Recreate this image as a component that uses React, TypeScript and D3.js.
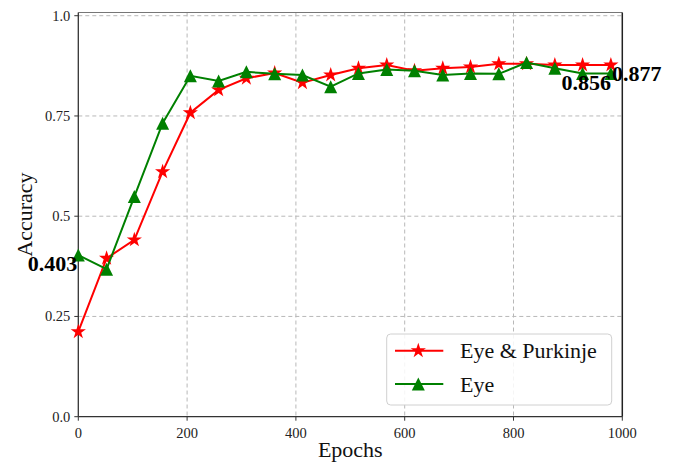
import React from "react";
import * as d3 from "d3";

// epochs at which accuracy was measured
const epochs = [0, 52, 103, 155, 206, 258, 309, 361, 412, 464, 515, 567, 618, 670, 721, 773, 824, 876, 927, 979];
// Eye & Purkinje (red stars)
const eyePurkinje = [0.212, 0.395, 0.441, 0.611, 0.758, 0.815, 0.844, 0.857, 0.833, 0.852, 0.869, 0.877, 0.863, 0.869, 0.872, 0.88, 0.88, 0.877, 0.877, 0.877];
// Eye only (green triangles)
const eyeOnly = [0.403, 0.368, 0.549, 0.732, 0.85, 0.837, 0.86, 0.855, 0.852, 0.823, 0.856, 0.866, 0.863, 0.852, 0.856, 0.855, 0.883, 0.869, 0.856, 0.856];

const xTicks = [0, 200, 400, 600, 800, 1000];
const yTicks = [0.0, 0.25, 0.5, 0.75, 1.0];
const yTickLabels = ["0.0", "0.25", "0.5", "0.75", "1.0"];
const seriesNames = ["Eye & Purkinje", "Eye"];

const W = 678;
const H = 468;
const left = 78.3, right = 622.3, top = 12.5, bottom = 416.7;
const font = "'Liberation Serif', 'Times New Roman', serif";

function starPath(R: number) {
  const r = R * 0.381966;
  const pts: string[] = [];
  for (let i = 0; i < 10; i++) {
    const a = -Math.PI / 2 + (i * Math.PI) / 5;
    const rr = i % 2 === 0 ? R : r;
    pts.push(`${(rr * Math.cos(a)).toFixed(2)},${(rr * Math.sin(a)).toFixed(2)}`);
  }
  return "M" + pts.join("L") + "Z";
}

function triPath(s: number) {
  return `M0,${-s}L${s},${s}L${-s},${s}Z`;
}

export default function App() {
  const x = d3.scaleLinear().domain([0, 1000]).range([left, right]);
  const y = d3.scaleLinear().domain([0, 1.008]).range([bottom, top]);

  const line = d3
    .line<number>()
    .x((_, i) => x(epochs[i]))
    .y((d) => y(d));

  const star = starPath(8);
  const tri = triPath(6.5);
  const red = "#ff0000";
  const green = "#008000";
  const last = epochs.length - 1;

  return (
    <svg width={W} height={H} style={{ position: "absolute", left: 0, top: 0, background: "#fff" }}>
      {/* grid */}
      {xTicks.slice(1, -1).map((t) => (
        <line key={`gx${t}`} x1={x(t)} x2={x(t)} y1={top} y2={bottom} stroke="#b8b8b8" strokeWidth={1} strokeDasharray="4,3" />
      ))}
      {yTicks.slice(1).map((t) => (
        <line key={`gy${t}`} x1={left} x2={right} y1={y(t)} y2={y(t)} stroke="#b8b8b8" strokeWidth={1} strokeDasharray="4,3" />
      ))}

      {/* spines */}
      <line x1={left} x2={right} y1={top} y2={top} stroke="#777" strokeWidth={1.2} />
      <line x1={left} x2={left} y1={top} y2={bottom} stroke="#333" strokeWidth={1.3} />
      <line x1={right} x2={right} y1={top} y2={bottom} stroke="#222" strokeWidth={1.5} />
      <line x1={left} x2={right} y1={bottom} y2={bottom} stroke="#333" strokeWidth={1.3} />

      {/* ticks */}
      {xTicks.map((t) => (
        <g key={`tx${t}`}>
          <line x1={x(t)} x2={x(t)} y1={bottom} y2={bottom + 4} stroke="#333" strokeWidth={1} />
          <text x={x(t)} y={438} textAnchor="middle" fontFamily={font} fontSize={14.5} fill="#222">
            {t}
          </text>
        </g>
      ))}
      {yTicks.map((t, i) => (
        <g key={`ty${t}`}>
          <line x1={left - 4} x2={left} y1={y(t)} y2={y(t)} stroke="#333" strokeWidth={1} />
          <text x={left - 8} y={y(t) + 5} textAnchor="end" fontFamily={font} fontSize={14.5} fill="#222">
            {yTickLabels[i]}
          </text>
        </g>
      ))}

      {/* axis labels */}
      <text x={(left + right) / 2} y={457} textAnchor="middle" fontFamily={font} fontSize={22} fill="#111">
        Epochs
      </text>
      <text
        transform={`translate(32,${(top + bottom) / 2}) rotate(-90)`}
        textAnchor="middle"
        fontFamily={font}
        fontSize={22}
        fill="#111"
      >
        Accuracy
      </text>

      {/* series */}
      <path d={line(eyePurkinje) || undefined} fill="none" stroke={red} strokeWidth={2} />
      {eyePurkinje.map((v, i) => (
        <path key={`s${i}`} d={star} transform={`translate(${x(epochs[i])},${y(v)})`} fill={red} />
      ))}
      <path d={line(eyeOnly) || undefined} fill="none" stroke={green} strokeWidth={2} />
      {eyeOnly.map((v, i) => (
        <path key={`t${i}`} d={tri} transform={`translate(${x(epochs[i])},${y(v)})`} fill={green} />
      ))}

      {/* annotations */}
      <text x={x(epochs[0]) - 1} y={y(eyeOnly[0]) + 16} textAnchor="end" fontFamily={font} fontWeight="bold" fontSize={22} fill="#000">
        {eyeOnly[0].toFixed(3)}
      </text>
      <text x={x(epochs[last])} y={y(eyeOnly[last]) + 17} textAnchor="end" fontFamily={font} fontWeight="bold" fontSize={22} fill="#000">
        {eyeOnly[last].toFixed(3)}
      </text>
      <text x={x(epochs[last]) + 1} y={y(eyePurkinje[last]) + 16} textAnchor="start" fontFamily={font} fontWeight="bold" fontSize={22} fill="#000">
        {eyePurkinje[last].toFixed(3)}
      </text>

      {/* legend */}
      <g>
        <rect x={386.7} y={334} width={225} height={71} rx={4} fill="#fff" fillOpacity={0.85} stroke="#d0d0d0" strokeWidth={1} />
        {seriesNames.map((name, i) => {
          const ly = 350.7 + i * 33.3;
          const c = i === 0 ? red : green;
          return (
            <g key={name}>
              <line x1={395} x2={443.3} y1={ly} y2={ly} stroke={c} strokeWidth={2} />
              <path d={i === 0 ? star : tri} transform={`translate(418.3,${ly})`} fill={c} />
              <text x={460} y={ly + 7.5} fontFamily={font} fontSize={22} fill="#111">
                {name}
              </text>
            </g>
          );
        })}
      </g>
    </svg>
  );
}
